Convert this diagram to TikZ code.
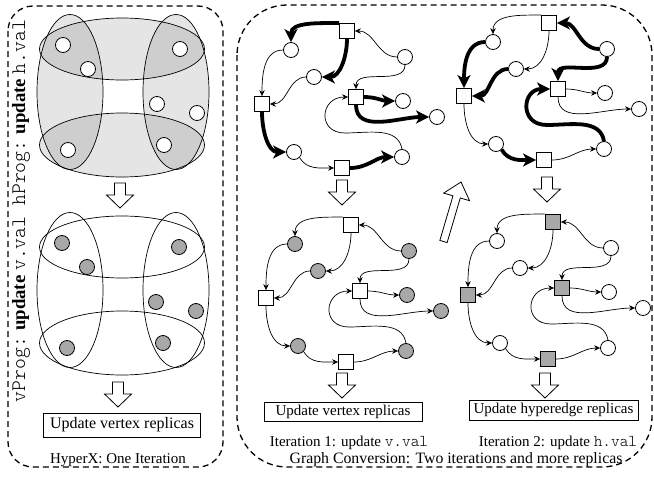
\documentclass[tikz,border=0pt]{standalone}
\usepackage{fontspec}
\setmainfont{Liberation Serif}
\setmonofont{Latin Modern Mono Light}[Scale=1.1]
\usetikzlibrary{arrows.meta}

\definecolor{nodegray}{RGB}{168,168,168}

\tikzset{
  pics/blockarrow/.style n args={3}{code={%
    \draw[line width=0.8pt, fill=white, line join=miter]
      (-#2,0) -- (-#2,-#1+#3) -- (-13.5,-#1+#3) -- (0,-#1)
      -- (13.5,-#1+#3) -- (#2,-#1+#3) -- (#2,0) -- cycle;}}
}

% one converted graph: #1 name prefix, #2 shift, #3 square style,
% #4 circle style, #5 hyperedge->vertex edges, #6 vertex->hyperedge edges
\newcommand\convgraph[6]{%
  \begin{scope}[shift={#2}]
    \node[sq,#3] (#1s1) at (347,-31) {};
    \node[sq,#3] (#1s2) at (262,-104) {};
    \node[sq,#3] (#1s3) at (356,-97) {};
    \node[sq,#3] (#1s4) at (342,-168) {};
    \node[vx,#4] (#1c1) at (291,-50) {};
    \node[vx,#4] (#1c2) at (314,-77) {};
    \node[vx,#4] (#1c3) at (405,-57) {};
    \node[vx,#4] (#1c4) at (403,-101) {};
    \node[vx,#4] (#1c5) at (437,-117) {};
    \node[vx,#4] (#1c6) at (294,-152) {};
    \node[vx,#4] (#1c7) at (402,-157) {};
    \coordinate (#1m) at (345,-133);
  \end{scope}
  \draw[#5] (#1s1.north west) to[out=180,in=90] (#1c1.north);
  \draw[#5] (#1s1.south) to[out=-90,in=0] (#1c2.east);
  \draw[#5] (#1s2.south) to[out=-90,in=180] (#1c6.west);
  \draw[#5] (#1s3.east) to[out=0,in=180] (#1c4.west);
  \draw[#5] (#1s3.south) to[out=-90,in=180] (#1c5.west);
  \draw[#5] (#1s4.east) to[out=0,in=180] (#1c7.west);
  \draw[#6] (#1c3.west) to[out=180,in=0] (#1s1.east);
  \draw[#6] (#1c3.south) to[out=-90,in=90] (#1s3.north);
  \draw[#6] (#1c1.west) to[out=180,in=90] (#1s2.north);
  \draw[#6] (#1c2.west) to[out=180,in=0] (#1s2.east);
  \draw[#6] (#1c6.south east) to[out=-60,in=180] (#1s4.west);
  \draw[#6] (#1c7.north) to[out=100,in=0] (#1m)
             to[out=180,in=180,looseness=2] (#1s3.west);
}

\begin{document}
\begin{tikzpicture}[x=1pt,y=1pt,
  sq/.style={draw, line width=0.8pt, fill=white, minimum size=15pt, inner sep=0pt},
  vx/.style={circle, draw, line width=0.8pt, fill=white, minimum size=15pt, inner sep=0pt},
  grayfill/.style={fill=nodegray},
  slimedge/.style={line width=0.7pt, -{Stealth[length=6pt,width=5.5pt]}},
  boldedge/.style={line width=3.8pt, -{Stealth[length=13pt,width=13pt,inset=3.5pt]}},
  hyper/.style={line width=0.7pt},
  panel/.style={draw, line width=1.3pt, dash pattern=on 6pt off 4pt},
  labelbox/.style={draw, line width=0.8pt, inner sep=0pt},
  caption/.style={font=\fontsize{15}{18}\selectfont, inner sep=0pt}
  ]
\useasboundingbox (0,0) rectangle (654,-479);

% ---- HyperX panel ----
\draw[panel, rounded corners=25pt] (8,-6) rectangle (223,-467);

% shaded hypergraph
\foreach \cx/\cy/\rx/\ry in {70/92/33/77.5, 176/92/33/77.5, 122/49/82.5/31, 122/145/82.5/32}{
  \fill[black, fill opacity=0.1] (\cx,-\cy) ellipse [x radius=\rx, y radius=\ry];
  \draw[hyper] (\cx,-\cy) ellipse [x radius=\rx, y radius=\ry];
  \draw[hyper] (\cx,-\cy-198) ellipse [x radius=\rx, y radius=\ry];
}
\foreach \x/\y [count=\i] in {63/45, 88/69, 180/49, 157/104, 197/113, 164/145, 68/150}{
  \node[vx] (ta\i) at (\x,-\y) {};
  \node[vx, grayfill] (tb\i) at (\x-1,-\y-198) {};
}

\pic at (120,-183) {blockarrow={25}{5.5}{13}};
\pic at (118,-382) {blockarrow={25}{5.5}{13}};

\node[labelbox, font=\fontsize{16}{19}\selectfont, minimum width=157pt, minimum height=24pt]
  (hxbox) at (122,-425) {Update vertex replicas};
\node[caption] (hxcap) at (118,-460) {HyperX: One Iteration};
\node[rotate=90, font=\fontsize{18.8}{21}\selectfont, inner sep=0pt] (progs) at (21,-211)
  {\texttt{vProg:} \textbf{update} \texttt{v.val hProg:} \textbf{update} \texttt{h.val}};

% ---- graph conversion panel ----
\draw[panel, rounded corners=50pt] (237,-5) rectangle (652,-467);

\convgraph{a}{(0,0)}{}{}{boldedge}{slimedge}
\convgraph{b}{(4,-194)}{}{grayfill}{slimedge}{slimedge}
\convgraph{c}{(202,8)}{}{}{slimedge}{boldedge}
\convgraph{d}{(206,-191)}{grayfill}{}{slimedge}{slimedge}

\pic at (342,-180) {blockarrow={25}{5.5}{13}};
\pic at (342,-373) {blockarrow={25}{5.5}{13}};
\pic at (547,-177) {blockarrow={25}{5.5}{13}};
\pic at (545,-373) {blockarrow={25}{5.5}{13}};
\pic[rotate=163.6] at (443.5,-241.5) {blockarrow={62}{3.8}{15.5}};

\node[labelbox, font=\fontsize{15}{18}\selectfont, minimum width=158pt, minimum height=19pt]
  (vrep) at (343,-411.5) {Update vertex replicas};
\node[labelbox, font=\fontsize{15}{18}\selectfont, minimum width=169pt, minimum height=20pt]
  (hrep) at (553.5,-410) {Update hyperedge replicas};
\node[caption] (it1) at (349,-443) {Iteration 1: update \texttt{v.val}};
\node[caption] (it2) at (558,-443) {Iteration 2: update \texttt{h.val}};
\node[caption, font=\fontsize{15.8}{18}\selectfont] (gc) at (456,-460) {Graph Conversion: Two iterations and more replicas};
\end{tikzpicture}
\end{document}
